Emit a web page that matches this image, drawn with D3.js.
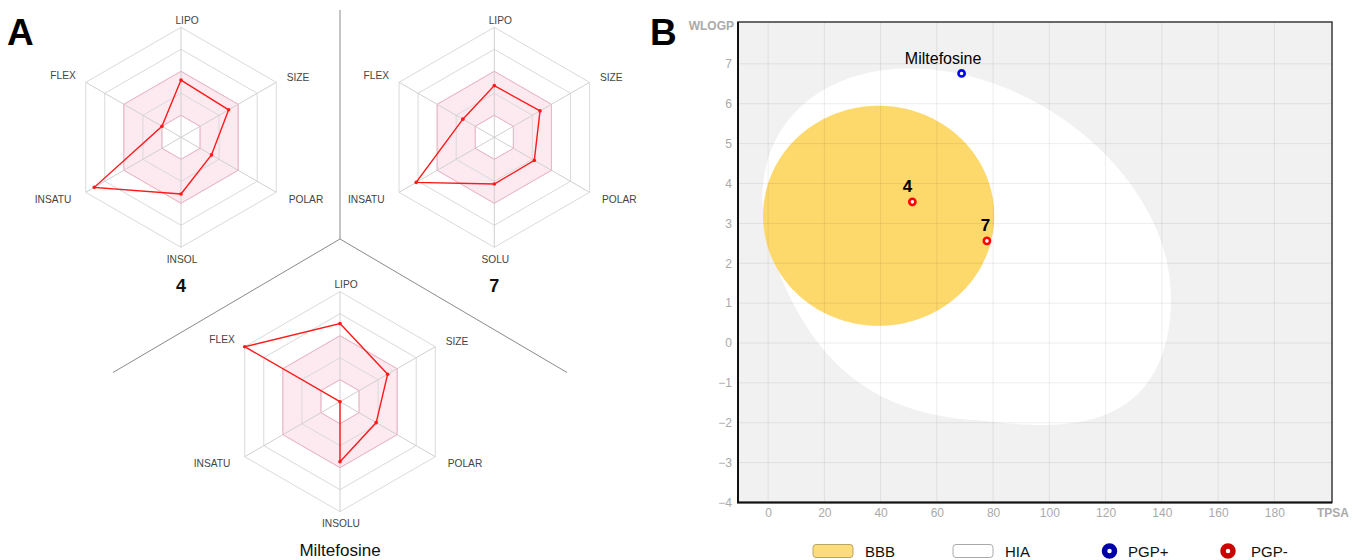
<!DOCTYPE html>
<html>
<head>
<meta charset="utf-8">
<script src="https://cdn.jsdelivr.net/npm/d3@7"></script>
<style>
  body { margin: 0; background: #fff; }
  svg { display: block; font-family: "Liberation Sans", Arial, sans-serif; }
</style>
</head>
<body>
<script>
'use strict';

// panel A: bioavailability radars, values as fraction of the outer ring
const compounds = ["4", "7", "Miltefosine"];
const radarLabels4 = ["LIPO", "SIZE", "POLAR", "INSOL", "INSATU", "FLEX"];
const radarLabels7 = ["LIPO", "SIZE", "POLAR", "SOLU", "INSATU", "FLEX"];
const radarLabelsM = ["LIPO", "SIZE", "POLAR", "INSOLU", "INSATU", "FLEX"];
const radar4 = [0.52, 0.50, 0.32, 0.515, 0.91, 0.20];
const radar7 = [0.47, 0.48, 0.42, 0.425, 0.82, 0.33];
const radarM = [0.71, 0.50, 0.38, 0.545, 0.0, 1.0];
const ringLevels = [0.2, 0.4, 0.6, 0.8, 1.0];
const optimalBand = [0.2, 0.6];

// panel B: boiled egg
const eggTPSA = [51.3, 77.8, 68.8];
const eggWLOGP = [3.54, 2.56, 6.76];
const eggPGP = ["PGP-", "PGP-", "PGP+"];
const tpsaTicks = [0, 20, 40, 60, 80, 100, 120, 140, 160, 180];
const wlogpTicks = [-4, -3, -2, -1, 0, 1, 2, 3, 4, 5, 6, 7];
// egg regions: centre TPSA, centre WLOGP, half width, half height, tilt phase, lower squareness
const hiaRegion = [70.6, 2.415, 72.6, 4.47, -0.281, 0.55];
const bbbRegion = [39.3, 3.19, 41.1, 2.76, 0, 0];
const legendLabels = ["BBB", "HIA", "PGP+", "PGP-"];

(function() {

  window.onload = function() {

    let svg = d3.select("body")
      .append("svg")
      .attr("width", 1353)
      .attr("height", 560);

    // ---------- panel A ----------
    svg.append("text")
      .attr("x", 7).attr("y", 45)
      .attr("font-size", 37).attr("font-weight", "bold")
      .text("A");

    // separators
    let sep = svg.append("g")
      .attr("stroke", "#8a8a8a")
      .attr("stroke-width", 1)
      .attr("fill", "none");
    sep.append("path").attr("d", "M340,10L340,239L113,372.5");
    sep.append("path").attr("d", "M340,239L567,372.5");

    let radius = d3.scaleLinear().domain([0, 1]).range([0, 110]);
    let angle = i => i * Math.PI / 3;
    let hex = d3.lineRadial()
      .angle((d, i) => angle(i))
      .radius(d => radius(d))
      .curve(d3.curveLinearClosed);

    let labelPos = [[6, -117], [117, -60], [125, 62], [1, 122], [-128, 62], [-118, -62]];
    let centres = [[181, 137.3], [494.3, 137.3], [340, 401.7]];
    let radarValues = [radar4, radar7, radarM];
    let radarLabels = [radarLabels4, radarLabels7, radarLabelsM];
    let titles = [
      {y: 292, size: 18, weight: "bold"},
      {y: 292, size: 18, weight: "bold"},
      {y: 556, size: 17, weight: "normal"}
    ];

    compounds.forEach((name, k) => {
      let g = svg.append("g")
        .attr("transform", "translate(" + centres[k][0] + "," + centres[k][1] + ")");

      g.append("path")
        .attr("d", hex(Array(6).fill(optimalBand[1])) + hex(Array(6).fill(optimalBand[0])))
        .attr("fill-rule", "evenodd")
        .attr("fill", "#fde9f0");

      g.selectAll(".ring")
        .data(ringLevels)
        .enter()
        .append("path")
        .attr("class", "ring")
        .attr("d", lv => hex(Array(6).fill(lv)))
        .attr("fill", "none")
        .attr("stroke", "#dadada")
        .attr("stroke-width", 1);

      g.selectAll(".spoke")
        .data(radarLabels[k])
        .enter()
        .append("line")
        .attr("class", "spoke")
        .attr("x1", 0).attr("y1", 0)
        .attr("x2", (d, i) => radius(1) * Math.sin(angle(i)))
        .attr("y2", (d, i) => -radius(1) * Math.cos(angle(i)))
        .attr("stroke", "#d0d0d0")
        .attr("stroke-width", 1);

      g.selectAll(".band")
        .data(optimalBand)
        .enter()
        .append("path")
        .attr("class", "band")
        .attr("d", lv => hex(Array(6).fill(lv)))
        .attr("fill", "none")
        .attr("stroke", "#f0b4c4")
        .attr("stroke-width", 1);

      g.append("path")
        .attr("d", hex(radarValues[k]))
        .attr("fill", "none")
        .attr("stroke", "#ff1a1a")
        .attr("stroke-width", 1.4);

      g.selectAll(".pt")
        .data(radarValues[k])
        .enter()
        .append("circle")
        .attr("class", "pt")
        .attr("cx", (d, i) => radius(d) * Math.sin(angle(i)))
        .attr("cy", (d, i) => -radius(d) * Math.cos(angle(i)))
        .attr("r", 1.8)
        .attr("fill", "#ff1a1a");

      g.selectAll(".lbl")
        .data(radarLabels[k])
        .enter()
        .append("text")
        .attr("class", "lbl")
        .attr("x", (d, i) => labelPos[i][0])
        .attr("y", (d, i) => labelPos[i][1] + 3.6)
        .attr("text-anchor", "middle")
        .attr("font-size", 10.2)
        .attr("fill", "#444")
        .text(d => d);

      g.append("text")
        .attr("x", 0)
        .attr("y", titles[k].y - centres[k][1])
        .attr("text-anchor", "middle")
        .attr("font-size", titles[k].size)
        .attr("font-weight", titles[k].weight)
        .attr("fill", "#111")
        .text(name);
    });

    // ---------- panel B ----------
    svg.append("text")
      .attr("x", 650).attr("y", 45)
      .attr("font-size", 37).attr("font-weight", "bold")
      .text("B");

    let left = 738, right = 1332, top = 22, bottom = 502.5;
    let x = d3.scaleLinear().domain([-10.7, 200.5]).range([left, right]);
    let y = d3.scaleLinear().domain([-4, 8.05]).range([bottom, top]);

    svg.append("clipPath").attr("id", "frame")
      .append("rect")
      .attr("x", left).attr("y", top)
      .attr("width", right - left).attr("height", bottom - top);

    let plot = svg.append("g").attr("clip-path", "url(#frame)");
    plot.append("rect")
      .attr("x", left).attr("y", top)
      .attr("width", right - left).attr("height", bottom - top)
      .attr("fill", "#f1f1f1");

    // closed outline of an egg region, computed in data units and mapped by the scales
    let regionPath = r => {
      let pts = d3.range(0, 360, 1).map(deg => {
        let t = deg * Math.PI / 180;
        let c = Math.cos(t), s = Math.sin(t + r[4]);
        let p = 2 / (2 + r[5] * Math.max(0, -s));
        let cp = Math.sign(c) * Math.pow(Math.abs(c), p);
        let sp = Math.sign(s) * Math.pow(Math.abs(s), p);
        return [x(r[0] + r[2] * cp), y(r[1] + r[3] * sp)];
      });
      return d3.line().curve(d3.curveLinearClosed)(pts);
    };

    plot.append("path").attr("d", regionPath(hiaRegion)).attr("fill", "#ffffff");
    plot.append("path").attr("d", regionPath(bbbRegion)).attr("fill", "#fdd86b");

    plot.selectAll(".vgrid")
      .data(tpsaTicks)
      .enter()
      .append("line")
      .attr("class", "vgrid")
      .attr("x1", d => x(d)).attr("x2", d => x(d))
      .attr("y1", top).attr("y2", bottom)
      .attr("stroke", "#000").attr("stroke-opacity", 0.075);
    plot.selectAll(".hgrid")
      .data(wlogpTicks)
      .enter()
      .append("line")
      .attr("class", "hgrid")
      .attr("x1", left).attr("x2", right)
      .attr("y1", d => y(d)).attr("y2", d => y(d))
      .attr("stroke", "#000").attr("stroke-opacity", 0.075);

    svg.append("rect")
      .attr("x", left).attr("y", top)
      .attr("width", right - left).attr("height", bottom - top)
      .attr("fill", "none")
      .attr("stroke", "#3a3a3a")
      .attr("stroke-width", 1.5);
    svg.append("path")
      .attr("d", "M" + left + "," + top + "L" + left + "," + bottom + "L" + right + "," + bottom)
      .attr("fill", "none")
      .attr("stroke", "#111")
      .attr("stroke-width", 2);

    let yAxis = svg.append("g")
      .attr("transform", "translate(" + left + ",0)")
      .call(d3.axisLeft(y).tickValues(wlogpTicks).tickSize(0).tickPadding(6));
    let xAxis = svg.append("g")
      .attr("transform", "translate(0," + bottom + ")")
      .call(d3.axisBottom(x).tickValues(tpsaTicks).tickSize(0).tickPadding(6));
    [xAxis, yAxis].forEach(a => {
      a.select(".domain").remove();
      a.selectAll("text")
        .attr("font-family", "Liberation Sans, Arial, sans-serif")
        .attr("font-size", 12)
        .attr("fill", "#aaa");
    });

    svg.append("text")
      .attr("x", 734).attr("y", 29.5)
      .attr("text-anchor", "end")
      .attr("font-size", 12).attr("font-weight", "bold")
      .attr("fill", "#aaa")
      .text("WLOGP");
    svg.append("text")
      .attr("x", 1333).attr("y", 517)
      .attr("text-anchor", "middle")
      .attr("font-size", 12).attr("font-weight", "bold")
      .attr("fill", "#aaa")
      .text("TPSA");

    let pgpColour = {"PGP+": "#0000ff", "PGP-": "#ff0000"};
    let labelDx = [-5, -1.5, -18.5];

    svg.selectAll(".mol")
      .data(compounds)
      .enter()
      .append("circle")
      .attr("class", "mol")
      .attr("cx", (d, i) => x(eggTPSA[i]))
      .attr("cy", (d, i) => y(eggWLOGP[i]))
      .attr("r", 3.1)
      .attr("fill", "#fff")
      .attr("stroke", (d, i) => pgpColour[eggPGP[i]])
      .attr("stroke-width", 2.6);

    svg.selectAll(".molname")
      .data(compounds)
      .enter()
      .append("text")
      .attr("class", "molname")
      .attr("x", (d, i) => x(eggTPSA[i]) + labelDx[i])
      .attr("y", (d, i) => y(eggWLOGP[i]) - 9.5)
      .attr("text-anchor", "middle")
      .attr("font-size", (d, i) => i < 2 ? 17 : 16)
      .attr("font-weight", (d, i) => i < 2 ? "bold" : "normal")
      .attr("fill", "#000")
      .text(d => d);

    // legend
    let legendX = [813, 953, 1109.5, 1228];
    let textX = [865, 1005, 1128, 1251];
    let legend = svg.append("g");
    legendLabels.forEach((lab, i) => {
      if (i < 2) {
        legend.append("rect")
          .attr("x", legendX[i]).attr("y", 544.5)
          .attr("width", 40).attr("height", 13)
          .attr("rx", 3)
          .attr("fill", i === 0 ? "#fddc7c" : "#fff")
          .attr("stroke", i === 0 ? "#b9a46a" : "#aaa")
          .attr("stroke-width", 1);
      } else {
        legend.append("circle")
          .attr("cx", legendX[i]).attr("cy", 551)
          .attr("r", 5)
          .attr("fill", "#fff")
          .attr("stroke", lab === "PGP+" ? "#0000aa" : "#cc0000")
          .attr("stroke-width", 5.5);
      }
      legend.append("text")
        .attr("x", textX[i]).attr("y", 556.5)
        .attr("font-size", 15)
        .attr("fill", "#111")
        .text(lab);
    });
  };
})();
</script>
</body>
</html>
